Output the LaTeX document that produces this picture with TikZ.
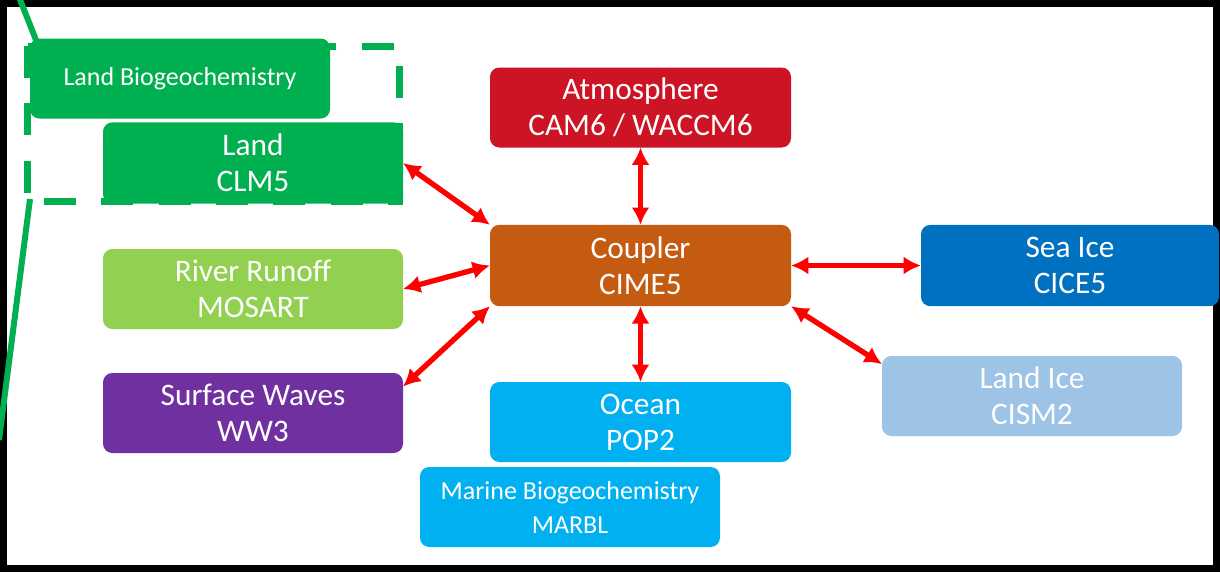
\documentclass[tikz,border=0pt]{standalone}
\usepackage{fontspec}
\setmainfont{Carlito}
\usetikzlibrary{arrows.meta,positioning}
\definecolor{landgreen}{HTML}{00B050}
\definecolor{atmred}{HTML}{CC1424}
\definecolor{cplorange}{HTML}{C55A11}
\definecolor{iceblue}{HTML}{0070C0}
\definecolor{glacier}{HTML}{9DC3E6}
\definecolor{oceanblue}{HTML}{00B0F0}
\definecolor{rivergreen}{HTML}{92D050}
\definecolor{wavepurple}{HTML}{7030A0}

\begin{document}
\begin{tikzpicture}[x=0.75pt,y=-0.75pt,line width=4pt,
    box/.style={rectangle,rounded corners=7pt,draw=none,text=white,align=center,inner sep=0pt,outer sep=0pt,
      minimum width=225pt,minimum height=60pt,font=\fontsize{23.5}{27}\selectfont},
    smallbox/.style={box,font=\fontsize{19.5}{25.5}\selectfont},
    link/.style={>={Latex[length=13pt,width=13.5pt]},<->,draw=red}]
    \useasboundingbox (0,0) rectangle (1220,572);
    \draw[line width=5.25pt] (3.5,3.5) rectangle (1216.5,568.5);

    % zoom lines and the dashed land group
    \coordinate (z1) at (19,-3);
    \coordinate (z2) at (36,40);
    \coordinate (z3) at (30,199);
    \coordinate (z4) at (-1,440);
    \draw[landgreen,line width=4.5pt] (z1) -- (z2);
    \draw[landgreen,line width=4.5pt] (z3) -- (z4);
    \coordinate (g1) at (27.5,46);
    \coordinate (g2) at (399,201.5);
    \draw[landgreen,line width=5.25pt,dash pattern=on 24pt off 19pt] (g1) rectangle (g2);

    \node[fill=landgreen] (lbgc) at (180,78.5) [smallbox] {Land Biogeochemistry};
    \node[fill=landgreen] (land) at (253,163) [box,minimum height=61pt] {Land\\CLM5};
    \node[fill=rivergreen] (river) at (253,289) [box] {River Runoff\\MOSART};
    \node[fill=wavepurple] (waves) at (253,413) [box] {Surface Waves\\WW3};
    \node[fill=atmred] (atm) at (640.5,107.5) [box,minimum width=225.75pt] {Atmosphere\\CAM6 / WACCM6};
    \node[fill=cplorange] (cpl) at (640.5,265.5) [box,minimum width=225.75pt,minimum height=61pt] {Coupler\\CIME5};
    \node[fill=oceanblue] (ocean) at (640.5,422) [box,minimum width=225.75pt] {Ocean\\POP2};
    \node[fill=oceanblue] (marbl) at (570,507) [smallbox] {Marine Biogeochemistry\\MARBL};
    \node[fill=iceblue] (sice) at (1070,265.5) [box,minimum width=223.5pt,minimum height=61pt] {Sea Ice\\CICE5};
    \node[fill=glacier] (lice) at (1032,396) [box] {Land Ice\\CISM2};

    \draw [link](land.east) -- (cpl.north west);
    \draw [link](river.east) -- (cpl.west);
    \draw [link](waves.10) -- (cpl.south west);
    \draw [link](atm.south) -- (cpl.north);
    \draw [link](cpl.south) -- (ocean.north);
    \draw [link](cpl.east) -- (sice.west);
    \draw [link](cpl.south east) -- (lice.168);
\end{tikzpicture}
\end{document}
